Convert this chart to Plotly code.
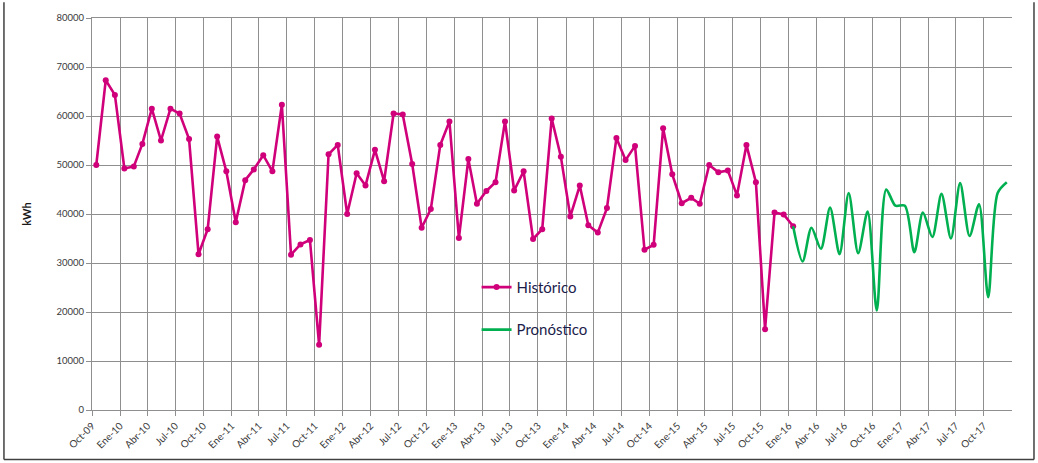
import pandas as pd
import plotly.graph_objects as go

# Monthly consumption (kWh), Oct-09 .. Jan-16
historico = [
    50000, 67300, 64300, 49300, 49700, 54300, 61500, 55000, 61500, 60500,
    55300, 31800, 36900, 55800, 48700, 38300, 46900, 49100, 52000, 48700,
    62300, 31700, 33800, 34700, 13300, 52200, 54100, 40000, 48300, 45800,
    53100, 46700, 60500, 60300, 50200, 37200, 41000, 54100, 58900, 35100,
    51200, 42100, 44700, 46500, 58900, 44800, 48700, 34900, 36900, 59500,
    51700, 39500, 45800, 37700, 36200, 41200, 55500, 51000, 53900, 32700,
    33700, 57500, 48100, 42200, 43300, 42100, 50000, 48500, 48900, 43800,
    54100, 46500, 16500, 40300, 39900, 37500,
]
# Forecast, Jan-16 .. Dec-17
pronostico = [
    37500, 30300, 37200, 32900, 41300, 31800, 44300, 32000, 40500, 20300,
    45000, 41700, 41700, 32200, 40300, 35300, 44100, 35000, 46300, 35500,
    42000, 23000, 44300, 46500,
]
MESES = {1: "Ene", 4: "Abr", 7: "Jul", 10: "Oct"}

hist_dates = pd.date_range("2009-10-01", periods=len(historico), freq="MS") + pd.Timedelta(days=14)
pron_dates = pd.date_range("2016-01-01", periods=len(pronostico), freq="MS") + pd.Timedelta(days=14)
tick_dates = pd.date_range("2009-10-01", "2017-10-01", freq="3MS")
tick_text = [f"{MESES[d.month]}-{d.year % 100:02d}" for d in tick_dates]

GRID = "#8f8f8f"
TEXT = "#3a3a3a"

fig = go.Figure()
fig.add_trace(
    go.Scatter(
        x=hist_dates,
        y=historico,
        mode="lines+markers",
        name="Histórico",
        legendgroup="h",
        line={"color": "#D0007A", "width": 2.6},
        marker={"color": "#D0007A", "size": 6},
    )
)
fig.add_trace(
    go.Scatter(
        x=pron_dates,
        y=pronostico,
        mode="lines",
        name="Pronóstico",
        legendgroup="p",
        line={"color": "#00B050", "width": 2.6, "shape": "spline", "smoothing": 0.8},
    )
)

# outer chart frame (left, bottom, right)
for x0, y0, x1, y1 in [(-0.0957, -0.126, -0.0957, 1.04), (-0.0957, -0.126, 1.0239, -0.126),
                       (1.0239, -0.126, 1.0239, 1.04)]:
    fig.add_shape(type="line", xref="paper", yref="paper", x0=x0, y0=y0, x1=x1, y1=y1,
                  line={"color": "#404040", "width": 1.5})

fig.update_layout(
    width=1038,
    height=463,
    margin={"l": 92, "r": 26, "t": 13, "b": 52},
    paper_bgcolor="white",
    plot_bgcolor="white",
    font={"family": "Lato, Open Sans, sans-serif", "color": TEXT},
    showlegend=True,
    legend={
        "x": 0.418,
        "y": 0.355,
        "xanchor": "left",
        "yanchor": "top",
        "bgcolor": "rgba(0,0,0,0)",
        "font": {"size": 15, "color": "#1c1c4a"},
        "traceorder": "grouped",
        "tracegroupgap": 20,
    },
    xaxis={
        "type": "date",
        "range": ["2009-10-01", "2018-01-01"],
        "tickmode": "array",
        "tickvals": tick_dates,
        "ticktext": tick_text,
        "tickangle": -45,
        "tickfont": {"size": 10, "color": TEXT},
        "showgrid": True,
        "gridcolor": GRID,
        "gridwidth": 1.3,
        "showline": True,
        "linecolor": GRID,
        "linewidth": 1.3,
        "mirror": True,
        "ticks": "outside",
        "ticklen": 5,
        "tickcolor": GRID,
        "zeroline": False,
    },
    yaxis={
        "range": [0, 80000],
        "dtick": 10000,
        "tickformat": "d",
        "tickfont": {"size": 9.5, "color": TEXT},
        "showgrid": True,
        "gridcolor": GRID,
        "gridwidth": 1.3,
        "showline": True,
        "linecolor": GRID,
        "linewidth": 1.3,
        "ticks": "outside",
        "ticklen": 5,
        "tickcolor": GRID,
        "zeroline": False,
        "title": {"text": "<b>kWh</b>", "font": {"size": 11, "color": "#1a1a1a"}, "standoff": 22},
    },
)

# drop the default page margin so the figure sits at the window's top-left corner
fig.write_html(
    "out.html",
    config={"displayModeBar": False},
    post_script="document.body.style.margin = '0';",
)
